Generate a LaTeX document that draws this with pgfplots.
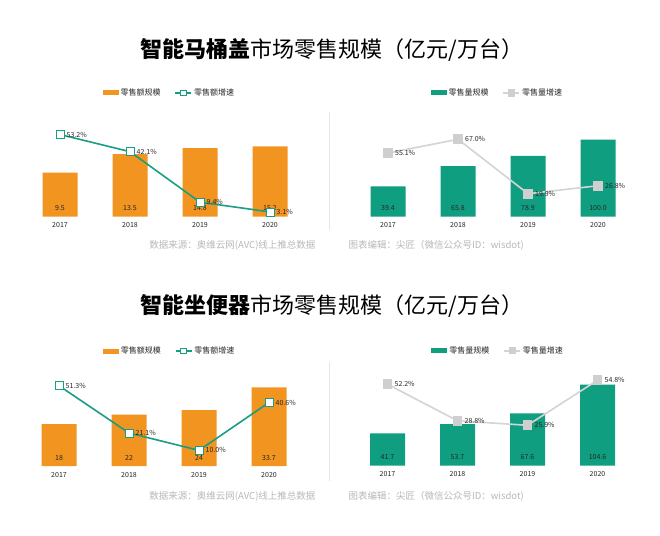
\documentclass[border=0pt]{standalone}
\usepackage{pgfplots}
\pgfplotsset{compat=1.18}
\usepackage{fontspec}
\setmainfont{Noto Sans CJK SC}
\definecolor{orangeC}{HTML}{F29420}
\definecolor{tealC}{HTML}{109E80}
\definecolor{tealL}{HTML}{1A9E82}
\definecolor{grayL}{HTML}{D4D4D4}
\definecolor{grayM}{HTML}{CFCFCF}
\definecolor{srcGray}{HTML}{B8B8B8}
\definecolor{txt}{HTML}{262626}
\pgfplotsset{
  panel/.style={scale only axis, width=280pt, height=110pt, xmin=-0.5, xmax=3.5, ymin=0,
    axis line style={draw=none}, tick style={draw=none}, ytick=\empty,
    xtick={0,1,2,3}, xticklabels={2017,2018,2019,2020},
    xticklabel style={font=\fontsize{7}{8}\selectfont, text=txt, yshift=-2.5pt},
    /pgf/number format/assume math mode=true,
    anchor=south west, clip=false,
    legend style={draw=none, fill=none, font=\fontsize{8}{9}\selectfont, text=txt, legend columns=2,
      /tikz/every even column/.append style={column sep=12pt}},
  },
  lineax/.style={scale only axis, width=280pt, height=110pt, xmin=-0.5, xmax=3.5, ymin=0,
    axis lines=none, anchor=south west, clip=false},
  barleg/.style={legend image code/.code={\fill[##1] (0pt,-2.5pt) rectangle (16pt,2.5pt);}},
  lineleg/.style={legend image code/.code={\draw[##1, mark repeat=2, mark phase=2, mark size=2.8pt] plot coordinates {(0pt,0pt) (8pt,0pt) (16pt,0pt)};}},
  barlab/.style={draw=none, mark=none, nodes near coords, point meta=explicit symbolic,
    every node near coord/.append style={anchor=center, yshift=8.5pt, font=\fontsize{7}{8}\selectfont, text=txt}},
  linelab/.style={nodes near coords, point meta=explicit symbolic,
    every node near coord/.append style={anchor=west, xshift=3pt, yshift=0pt, font=\fontsize{7}{8}\selectfont, text=txt}},
}
\begin{document}
\begin{tikzpicture}
\fill[white] (0pt,0pt) rectangle (660pt,-535pt);

% titles
\node[font=\fontsize{22}{24}\selectfont, text=black] at (332pt,-50pt) {\textbf{智能马桶盖}市场零售规模（亿元/万台）};
\node[font=\fontsize{22}{24}\selectfont, text=black] at (332pt,-306pt) {\textbf{智能坐便器}市场零售规模（亿元/万台）};

% separators
\draw[black!10, line width=0.6pt] (329pt,-112pt) -- (329pt,-230pt);
\draw[black!10, line width=0.6pt] (329pt,-362pt) -- (329pt,-481pt);

% sources
\node[anchor=east, font=\fontsize{9.5}{10}\selectfont, text=srcGray] at (319pt,-245pt) {数据来源：奥维云网(AVC)线上推总数据};
\node[anchor=west, font=\fontsize{9.5}{10}\selectfont, text=srcGray] at (345pt,-245pt) {图表编辑：尖匠（微信公众号ID：wisdot)};
\node[anchor=east, font=\fontsize{9.5}{10}\selectfont, text=srcGray] at (319pt,-496pt) {数据来源：奥维云网(AVC)线上推总数据};
\node[anchor=west, font=\fontsize{9.5}{10}\selectfont, text=srcGray] at (345pt,-496pt) {图表编辑：尖匠（微信公众号ID：wisdot)};

% ===== Top left: 马桶盖 零售额 =====
\begin{axis}[panel, at={(25pt,-216.7pt)}, ymax=23.76,
  legend style={at={(0.516,1.125)}, anchor=center}]
\addplot[ybar, bar width=35pt, fill=orangeC, draw=none, barleg] coordinates {(0,9.5) (1,13.5) (2,14.8) (3,15.2)};
\addlegendentry{零售额规模}
\addlegendimage{color=tealL, line width=1.5pt, mark=square*, mark options={fill=white, draw=tealL, line width=0.8pt}, lineleg}
\addlegendentry{零售额增速}
\addplot[barlab] coordinates {(0,0)[9.5] (1,0)[13.5] (2,0)[14.8] (3,0)[15.2]};
\end{axis}
\begin{axis}[lineax, at={(25pt,-216.7pt)}, ymax=71.2]
\addplot[color=tealL, line width=1.6pt, mark=square*, mark size=4pt, mark options={fill=white, draw=tealL, line width=0.8pt}, linelab]
  coordinates {(0,53.2)[53.2\%] (1,42.1)[42.1\%] (2,9.4)[9.4\%] (3,3.1)[3.1\%]};
\end{axis}

% ===== Top right: 马桶盖 零售量 =====
\begin{axis}[panel, at={(353pt,-216.7pt)}, ymax=142.9,
  legend style={at={(0.516,1.125)}, anchor=center}]
\addplot[ybar, bar width=35pt, fill=tealC, draw=none, barleg] coordinates {(0,39.4) (1,65.8) (2,78.9) (3,100.0)};
\addlegendentry{零售量规模}
\addlegendimage{color=grayL, line width=1.5pt, mark=square*, mark options={fill=grayM, draw=grayM}, lineleg}
\addlegendentry{零售量增速}
\addplot[barlab] coordinates {(0,0)[39.4] (1,0)[65.8] (2,0)[78.9] (3,0)[100.0]};
\end{axis}
\begin{axis}[lineax, at={(353pt,-216.7pt)}, ymax=95.2]
\addplot[color=grayL, line width=1.6pt, mark=square*, mark size=4pt, mark options={fill=grayM, draw=grayM}, linelab]
  coordinates {(0,55.1)[55.1\%] (1,67.0)[67.0\%] (2,19.9)[19.9\%] (3,26.8)[26.8\%]};
\end{axis}

% ===== Bottom left: 坐便器 零售额 =====
\begin{axis}[panel, at={(24pt,-466pt)}, ymax=47.2,
  legend style={at={(0.52,1.045)}, anchor=center}]
\addplot[ybar, bar width=35pt, fill=orangeC, draw=none, barleg] coordinates {(0,18) (1,22) (2,24) (3,33.7)};
\addlegendentry{零售额规模}
\addlegendimage{color=tealL, line width=1.5pt, mark=square*, mark options={fill=white, draw=tealL, line width=0.8pt}, lineleg}
\addlegendentry{零售额增速}
\addplot[barlab] coordinates {(0,0)[18] (1,0)[22] (2,0)[24] (3,0)[33.7]};
\end{axis}
\begin{axis}[lineax, at={(24pt,-466pt)}, ymax=70.3]
\addplot[color=tealL, line width=1.6pt, mark=square*, mark size=4pt, mark options={fill=white, draw=tealL, line width=0.8pt}, linelab]
  coordinates {(0,51.3)[51.3\%] (1,21.1)[21.1\%] (2,10.0)[10.0\%] (3,40.6)[40.6\%]};
\end{axis}

% ===== Bottom right: 坐便器 零售量 =====
\begin{axis}[panel, at={(352.5pt,-465.7pt)}, ymax=141.8,
  legend style={at={(0.52,1.045)}, anchor=center}]
\addplot[ybar, bar width=35pt, fill=tealC, draw=none, barleg] coordinates {(0,41.7) (1,53.7) (2,67.6) (3,104.6)};
\addlegendentry{零售量规模}
\addlegendimage{color=grayL, line width=1.5pt, mark=square*, mark options={fill=grayM, draw=grayM}, lineleg}
\addlegendentry{零售量增速}
\addplot[barlab] coordinates {(0,0)[41.7] (1,0)[53.7] (2,0)[67.6] (3,0)[104.6]};
\end{axis}
\begin{axis}[lineax, at={(352.5pt,-465.7pt)}, ymax=70.5]
\addplot[color=grayL, line width=1.6pt, mark=square*, mark size=4pt, mark options={fill=grayM, draw=grayM}, linelab]
  coordinates {(0,52.2)[52.2\%] (1,28.8)[28.8\%] (2,25.9)[25.9\%] (3,54.8)[54.8\%]};
\end{axis}
\end{tikzpicture}
\end{document}
